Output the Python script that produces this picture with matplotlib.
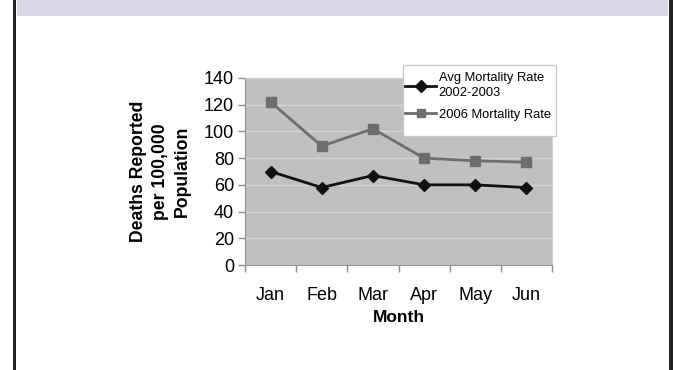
import matplotlib
matplotlib.use("Agg")
import matplotlib.pyplot as plt
from matplotlib.patches import Rectangle

months = ["Jan", "Feb", "Mar", "Apr", "May", "Jun"]
avg_2002_2003 = [70, 58, 67, 60, 60, 58]
rate_2006 = [122, 89, 102, 80, 78, 77]
yticks = [0, 20, 40, 60, 80, 100, 120, 140]

plt.rcParams['font.family'] = ['Liberation Sans', 'DejaVu Sans']

W, H = 674, 370
fig = plt.figure(figsize=(W / 100, H / 100), dpi=100)
fig.patch.set_facecolor("white")

# slide frame
fig.patches.append(Rectangle((13 / W, 0), 3 / W, 1, transform=fig.transFigure,
                             facecolor="#222222", edgecolor="none", zorder=5))
fig.patches.append(Rectangle((669 / W, 0), 4 / W, 1, transform=fig.transFigure,
                             facecolor="#222222", edgecolor="none", zorder=5))
fig.patches.append(Rectangle((17 / W, 1 - 16 / H), (668 - 17) / W, 16 / H,
                             transform=fig.transFigure, facecolor="#DAD8E6",
                             edgecolor="none", zorder=4))

ax = fig.add_axes([245 / W, 1 - 265 / H, (552 - 245) / W, (265 - 78) / H])
ax.set_facecolor("#C0C0C0")
x = list(range(len(months)))

ax.plot(x, rate_2006, color="#6E6E6E", lw=2, marker="s", ms=7,
        markerfacecolor="#6E6E6E", markeredgecolor="#6E6E6E",
        label="2006 Mortality Rate", zorder=3)
ax.plot(x, avg_2002_2003, color="#111111", lw=2, marker="D", ms=6.5,
        markerfacecolor="#111111", markeredgecolor="#111111",
        label="Avg Mortality Rate\n2002-2003", zorder=4)

ax.set_xlim(-0.5, len(months) - 0.5)
ax.set_ylim(0, 140)
ax.set_yticks(yticks)
ax.set_yticklabels([str(v) for v in yticks], fontsize=13)
ax.set_xticks(x)
ax.set_xticklabels(months, fontsize=13)
ax.set_xticks([i - 0.5 for i in range(len(months) + 1)], minor=True)
ax.tick_params(axis="x", which="major", length=0, pad=15.5)
ax.tick_params(axis="x", which="minor", length=5, color="#909090", width=1)
ax.tick_params(axis="y", length=5, color="#909090", width=1, pad=3)
ax.yaxis.grid(True, color="#D4D4D4", lw=1)
ax.set_axisbelow(True)
for s in ["left", "bottom"]:
    ax.spines[s].set_color("#909090")
for s in ["top", "right"]:
    ax.spines[s].set_color("#D0D0D0")

ax.set_xlabel("Month", fontsize=12.5, fontweight="bold", labelpad=5)
ax.set_ylabel("Deaths Reported\nper 100,000\nPopulation", fontsize=12.7,
              fontweight="bold", linespacing=1.4, labelpad=9)

# legend box
ax.add_patch(Rectangle((403 / W, 1 - 136 / H), (556 - 403) / W, (136 - 65) / H,
                       transform=fig.transFigure, facecolor="white",
                       edgecolor="#C8C8C8", lw=1, clip_on=False, zorder=9))

handles, labels = ax.get_legend_handles_labels()
leg = ax.legend(handles[::-1], labels[::-1], loc="upper left",
                bbox_to_anchor=(405 / W, 1 - 72 / H), bbox_transform=fig.transFigure,
                fontsize=9.3, frameon=False, handlelength=2.4, handletextpad=0.2,
                borderpad=0.0, labelspacing=0.75, borderaxespad=0)
leg.set_zorder(10)
for t in leg.get_texts():
    t.set_linespacing(1.35)
for h in leg.legend_handles:
    h.set_markersize(6)

fig.savefig("out.png", dpi=100)
